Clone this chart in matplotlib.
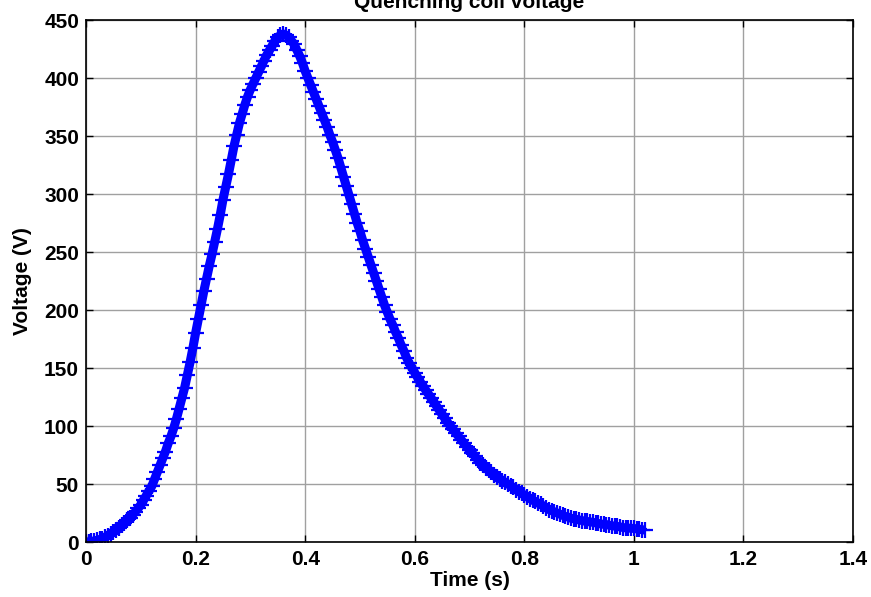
import matplotlib
matplotlib.use("Agg")
import matplotlib.pyplot as plt
import numpy as np

time_step_s = 0.005
n_samples = 205
time_s = [round(i * time_step_s, 3) for i in range(n_samples)]

voltage_v = [
    0, 0.2, 0.5, 1, 1.5, 2.2, 3, 4.2, 5.5, 7.2,
    9, 10.7, 12.5, 14.5, 16.5, 18.7, 21, 23.5, 26, 29,
    32, 36, 40, 44, 48, 54, 60, 66, 72, 78,
    85, 91, 98, 106, 115, 124, 133, 144, 155, 167,
    180, 192, 204, 216, 227, 238, 248, 259, 270, 282,
    295, 306, 317, 329, 341, 351, 361, 369, 377, 384,
    390, 395, 400, 405, 410, 415, 420, 424, 428, 432,
    435, 437, 438, 437, 435, 432, 429, 424, 419, 413,
    406, 400, 394, 388, 382, 376, 370, 364, 358, 351,
    345, 338, 331, 323, 315, 307, 299, 291, 283, 275,
    268, 260, 253, 246, 239, 232, 225, 218, 211, 204,
    198, 192, 187, 181, 176, 170, 165, 159, 154, 150,
    146, 142, 138, 134.5, 131, 127.5, 124, 120.5, 117, 113.5,
    110, 106.5, 103, 100, 97, 94, 91, 88, 85, 82,
    79, 76.5, 74, 71, 68.5, 66, 64, 62, 60, 58,
    56, 54.5, 53, 51.5, 50, 48.5, 47, 45, 43.5, 42,
    40.5, 39, 37.5, 36, 35, 33.5, 32.5, 31, 29.5, 28,
    27, 26, 25, 24, 23, 22, 21.5, 20.5, 20, 19.5,
    19, 18.5, 18, 17.7, 17.3, 17, 16.5, 16, 15.5, 15.2,
    15, 14.5, 14, 13.7, 13.4, 13, 12.5, 12.2, 12, 11.8,
    11.7, 11.3, 11, 10.6, 10.3,
]

x_ticks = [0, 0.2, 0.4, 0.6, 0.8, 1.0, 1.2, 1.4]
x_labels = ["0", "0.2", "0.4", "0.6", "0.8", "1", "1.2", "1.4"]
y_ticks = [0, 50, 100, 150, 200, 250, 300, 350, 400, 450]

plt.rcParams['font.family'] = ['Liberation Sans', 'DejaVu Sans']
plt.rcParams['font.weight'] = 'bold'

fig = plt.figure(figsize=(8.71, 5.97), dpi=100)
ax = fig.add_axes([86/871, 55/597, 767/871, 522/597])

ax.plot(time_s, voltage_v, color='#0000ff', linewidth=6.5,
        solid_capstyle='butt', solid_joinstyle='round')
ax.plot(time_s, voltage_v, color='#0000ff', marker='+', markersize=11,
        markeredgewidth=1.6, linestyle='none')

ax.set_xlim(0, 1.4)
ax.set_ylim(0, 450)
ax.set_xticks(x_ticks)
ax.set_xticklabels(x_labels)
ax.set_yticks(y_ticks)
ax.grid(True, color='#a0a0a0', linewidth=1, linestyle='-')
ax.set_axisbelow(True)
ax.tick_params(direction='in', length=5, width=1, top=True, right=True,
               labelsize=15)
ax.tick_params(axis='y', pad=5)
ax.tick_params(axis='x', pad=6)
for lab in ax.get_xticklabels() + ax.get_yticklabels():
    lab.set_fontweight('bold')
for sp in ax.spines.values():
    sp.set_linewidth(1.2)

ax.set_xlabel('Time (s)', fontsize=15, fontweight='bold', labelpad=1)
ax.set_ylabel('Voltage (V)', fontsize=15, fontweight='bold', labelpad=9)
ax.set_title('Quenching coil voltage', fontsize=15, fontweight='bold', pad=9)

fig.savefig('out.png', dpi=100)
